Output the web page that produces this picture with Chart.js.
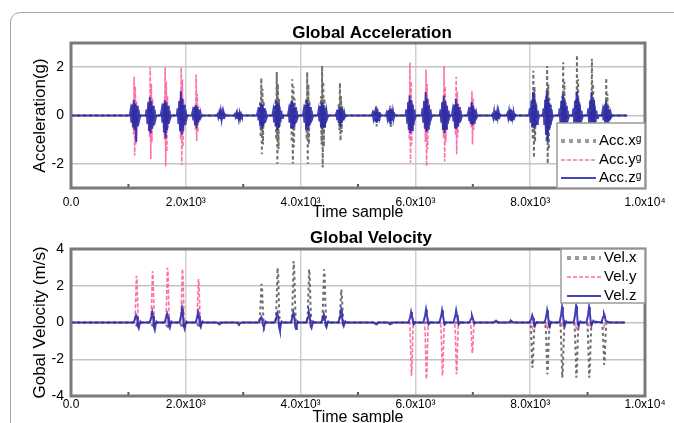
<!DOCTYPE html>
<html><head><meta charset="utf-8">
<script src="https://cdn.jsdelivr.net/npm/chart.js@4.4.1/dist/chart.umd.min.js"></script>
<style>
html,body{margin:0;padding:0;background:#fff;overflow:hidden;width:674px;height:423px;}
#frame{position:absolute;left:10px;top:12px;width:700px;height:500px;border:1px solid #a8a8a8;border-radius:10px;}
canvas{position:absolute;left:0;}
#c1{top:0}
#c2{top:206px}
</style></head><body>
<div id="frame"></div>
<canvas id="c1" width="674" height="225"></canvas>
<canvas id="c2" width="674" height="225"></canvas>
<script>
// ---------- shared axis text ----------
const xTickLabels = ['0.0', '2.0x10³', '4.0x10³', '6.0x10³', '8.0x10³', '1.0x10⁴'];
const xMinorTicks = [1000, 3000, 5000, 7000, 9000];
const xTitle = 'Time sample';

// ---------- Global Acceleration ----------
const accTitle = 'Global Acceleration';
const accYTitle = 'Acceleration(g)';
const accYTicks = [-2, 0, 2];
const accLabels = ['Acc.xᵍ', 'Acc.yᵍ', 'Acc.zᵍ'];
const accEnd = 9690;

const accXStarts = [1070, 1350, 1610, 1890, 2150, 2585, 2885, 3285, 3555, 3825, 4085, 4345, 4655, 5285, 5530, 5875, 6155, 6470, 6680, 6955, 7375, 7635, 8025, 8265, 8545, 8785, 9045, 9295];
const accXVals = [
  [0, 0.2, -0.3, 0.4, -0.5, 0.3, -0.3, 0.2, -0.1, 0],
  [0, 0.3, -0.4, 0.5, -0.5, 0.4, -0.3, 0.2, -0.1, 0],
  [0, 0.3, -0.5, 0.5, -0.6, 0.4, -0.3, 0.2, -0.1, 0],
  [0, 0.3, -0.4, 0.6, -0.5, 0.4, -0.3, 0.2, -0.1, 0],
  [0, 0.2, -0.3, 0.4, -0.4, 0.3, -0.2, 0.1, -0.1, 0],
  [0, 0.1, -0.15, 0.2, -0.2, 0.15, -0.1, 0.05, 0, 0],
  [0, 0.1, -0.1, 0.15, -0.2, 0.1, -0.1, 0.05, 0, 0],
  [0, 0.6, -0.9, 1.55, -1.6, 1.1, -1.2, 0.6, -0.4, 0],
  [0, 0.7, -1.0, 1.8, -2.0, 1.3, -1.4, 0.7, -0.5, 0],
  [0, 0.6, -1.1, 1.5, -2.0, 1.2, -1.3, 0.7, -0.4, 0],
  [0, 0.7, -1.0, 1.8, -2.0, 1.3, -1.2, 0.6, -0.4, 0],
  [0, 0.8, -1.2, 2.05, -2.15, 1.4, -1.3, 0.7, -0.5, 0],
  [0, 0.5, -0.6, 1.35, -1.05, 0.8, -0.7, 0.4, -0.2, 0],
  [0, 0.2, -0.3, 0.45, -0.45, 0.3, -0.2, 0.1, 0, 0],
  [0, 0.2, -0.3, 0.4, -0.5, 0.3, -0.2, 0.1, 0, 0],
  [0, 0.3, -0.5, 0.6, -0.6, 0.4, -0.3, 0.2, -0.1, 0],
  [0, 0.3, -0.4, 0.6, -0.7, 0.4, -0.3, 0.2, -0.1, 0],
  [0, 0.3, -0.5, 0.5, -0.6, 0.4, -0.3, 0.2, -0.1, 0],
  [0, 0.3, -0.4, 0.5, -0.5, 0.3, -0.3, 0.2, -0.1, 0],
  [0, 0.2, -0.3, 0.4, -0.4, 0.3, -0.2, 0.1, 0, 0],
  [0, 0.1, -0.2, 0.2, -0.2, 0.1, -0.1, 0.05, 0, 0],
  [0, 0.1, -0.2, 0.25, -0.2, 0.1, -0.1, 0.05, 0, 0],
  [0, 0.7, -1.0, 1.85, -1.75, 1.2, -1.1, 0.6, -0.4, 0],
  [0, 0.8, -1.1, 2.05, -2.0, 1.3, -1.4, 0.7, -0.5, 0],
  [0, 0.8, -1.0, 2.2, -1.9, 1.4, -1.2, 0.6, -0.4, 0],
  [0, 0.7, -1.0, 2.5, -1.8, 1.5, -1.1, 0.6, -0.3, 0],
  [0, 0.7, -0.9, 2.35, -1.7, 1.3, -1.0, 0.6, -0.3, 0],
  [0, 0.5, -0.7, 1.55, -1.2, 0.9, -0.6, 0.4, -0.2, 0]
];

const accYStarts = [1070, 1350, 1610, 1890, 2150, 3285, 3555, 3825, 4085, 4345, 4655, 5875, 6155, 6470, 6680, 6955, 8025, 8265, 8545, 8785, 9045, 9295];
const accYVals = [
  [0, 0.5, -0.8, 1.6, -1.65, 1.2, -1.2, 0.6, -0.4, 0],
  [0, 0.6, -0.9, 2.0, -1.8, 1.3, -1.1, 0.7, -0.5, 0],
  [0, 0.5, -1.0, 2.0, -2.1, 1.4, -1.5, 0.8, -0.5, 0],
  [0, 0.7, -1.0, 2.0, -2.05, 1.5, -1.3, 0.7, -0.4, 0],
  [0, 0.4, -0.6, 1.7, -1.05, 0.9, -0.7, 0.4, -0.2, 0],
  [0, 0.2, -0.3, 0.4, -0.4, 0.3, -0.2, 0.1, 0, 0],
  [0, 0.2, -0.3, 0.45, -0.5, 0.3, -0.2, 0.1, 0, 0],
  [0, 0.2, -0.3, 0.4, -0.45, 0.3, -0.2, 0.1, 0, 0],
  [0, 0.2, -0.3, 0.45, -0.5, 0.3, -0.2, 0.1, 0, 0],
  [0, 0.2, -0.3, 0.5, -0.5, 0.3, -0.2, 0.1, 0, 0],
  [0, 0.1, -0.2, 0.3, -0.3, 0.2, -0.1, 0.05, 0, 0],
  [0, 0.6, -1.0, 2.2, -1.95, 1.4, -1.2, 0.6, -0.4, 0],
  [0, 0.5, -1.1, 1.9, -2.1, 1.3, -1.4, 0.7, -0.3, 0],
  [0, 0.6, -0.9, 2.05, -1.9, 1.2, -1.1, 0.5, -0.3, 0],
  [0, 0.4, -0.8, 1.6, -1.6, 1.0, -0.9, 0.5, -0.3, 0],
  [0, 0.3, -0.5, 1.0, -1.2, 0.7, -0.6, 0.3, -0.2, 0],
  [0, 0.3, -0.4, 0.5, -0.6, 0.3, -0.2, 0.1, 0, 0],
  [0, 0.3, -0.5, 0.6, -0.8, 0.4, -0.3, 0.1, 0, 0],
  [0, 0.3, -0.4, 0.5, -0.6, 0.3, -0.2, 0.1, 0, 0],
  [0, 0.2, -0.4, 0.5, -0.5, 0.3, -0.2, 0.1, 0, 0],
  [0, 0.2, -0.3, 0.4, -0.5, 0.3, -0.2, 0.1, 0, 0],
  [0, 0.2, -0.3, 0.3, -0.4, 0.2, -0.1, 0.05, 0, 0]
];

const accZStarts = [1024, 1303, 1564, 1843, 2104, 2539, 2839, 3239, 3509, 3779, 4039, 4299, 4609, 5239, 5484, 5829, 6109, 6424, 6634, 6909, 7329, 7589, 7979, 8219, 8499, 8739, 8999, 9249];
const accZVals = [
  [0, 0.2, -0.3, 0.45, -0.5, 0.63, -0.6, 0.5, -1.1, 0.4, -0.45, 0.25, -0.15, 0],
  [0, 0.25, -0.35, 0.55, -0.6, 0.76, -0.73, 0.6, -0.55, 0.4, -0.4, 0.25, -0.15, 0],
  [0, 0.2, -0.3, 0.5, -0.7, 0.63, -0.94, 0.55, -0.6, 0.4, -0.35, 0.2, -0.1, 0],
  [0, 0.3, -0.35, 0.6, -0.6, 1.0, -0.8, 0.7, -0.65, 0.45, -0.4, 0.25, -0.15, 0],
  [0, 0.15, -0.2, 0.35, -0.4, 0.42, -0.53, 0.35, -0.3, 0.25, -0.2, 0.1, -0.05, 0],
  [0, 0.05, -0.08, 0.1, -0.12, 0.15, -0.15, 0.12, -0.1, 0.08, -0.05, 0.03, 0, 0],
  [0, 0.05, -0.06, 0.08, -0.1, 0.12, -0.12, 0.1, -0.08, 0.06, -0.04, 0.02, 0, 0],
  [0, 0.15, -0.2, 0.35, -0.4, 0.5, -0.55, 0.45, -0.45, 0.3, -0.3, 0.2, -0.1, 0],
  [0, 0.2, -0.25, 0.4, -0.45, 0.6, -0.6, 0.5, -0.5, 0.35, -0.3, 0.2, -0.1, 0],
  [0, 0.2, -0.3, 0.45, -0.5, 0.63, -0.55, 0.5, -0.5, 0.35, -0.3, 0.2, -0.1, 0],
  [0, 0.2, -0.3, 0.45, -0.55, 0.63, -0.6, 0.5, -0.45, 0.35, -0.3, 0.2, -0.1, 0],
  [0, 0.2, -0.25, 0.4, -0.5, 0.55, -0.55, 0.45, -0.45, 0.3, -0.3, 0.15, -0.1, 0],
  [0, 0.1, -0.15, 0.25, -0.3, 0.35, -0.46, 0.3, -0.3, 0.2, -0.2, 0.1, -0.05, 0],
  [0, 0.1, -0.1, 0.2, -0.25, 0.3, -0.3, 0.25, -0.2, 0.15, -0.1, 0.05, 0, 0],
  [0, 0.1, -0.1, 0.2, -0.25, 0.3, -0.35, 0.25, -0.2, 0.15, -0.1, 0.05, 0, 0],
  [0, 0.25, -0.3, 0.55, -0.6, 0.83, -0.73, 0.65, -0.6, 0.45, -0.4, 0.25, -0.1, 0],
  [0, 0.3, -0.3, 0.6, -0.55, 0.97, -0.67, 0.7, -0.55, 0.45, -0.4, 0.25, -0.1, 0],
  [0, 0.25, -0.3, 0.55, -0.6, 0.83, -0.73, 0.6, -0.55, 0.4, -0.35, 0.2, -0.1, 0],
  [0, 0.2, -0.25, 0.45, -0.5, 0.7, -0.55, 0.5, -0.45, 0.35, -0.3, 0.2, -0.1, 0],
  [0, 0.15, -0.2, 0.35, -0.35, 0.56, -0.4, 0.4, -0.3, 0.25, -0.2, 0.1, -0.05, 0],
  [0, 0.05, -0.1, 0.15, -0.15, 0.2, -0.2, 0.15, -0.1, 0.1, -0.05, 0.03, 0, 0],
  [0, 0.08, -0.1, 0.15, -0.2, 0.25, -0.25, 0.2, -0.15, 0.1, -0.05, 0.03, 0, 0],
  [0, 0.3, -0.3, 0.6, -0.5, 0.97, -0.53, 0.7, -0.45, 0.45, -0.35, 0.2, -0.1, 0],
  [0, 0.3, -0.4, 0.65, -0.8, 1.03, -1.07, 0.7, -0.6, 0.45, -0.4, 0.25, -0.1, 0],
  [0, 0.3, -0.35, 0.6, -0.6, 0.9, -0.6, 0.65, -0.5, 0.4, -0.35, 0.2, -0.1, 0],
  [0, 0.3, -0.35, 0.6, -0.55, 1.0, -0.6, 0.7, -0.5, 0.45, -0.35, 0.2, -0.1, 0],
  [0, 0.3, -0.35, 0.6, -0.55, 0.97, -0.6, 0.65, -0.5, 0.4, -0.3, 0.2, -0.1, 0],
  [0, 0.2, -0.2, 0.4, -0.3, 0.6, -0.35, 0.4, -0.3, 0.25, -0.2, 0.1, -0.05, 0]
];

// ---------- Global Velocity ----------
const velTitle = 'Global Velocity';
const velYTitle = 'Gobal Velocity (m/s)';
const velLabels = ['Vel.x', 'Vel.y', 'Vel.z'];
const velEnd = 9650;

const velXStarts = [1100, 1380, 1640, 1900, 2180, 3282, 3562, 3842, 4112, 4372, 4672, 8002, 8262, 8522, 8767, 8992, 9252];
const velXVals = [
  [0, -0.05, -0.1, -0.15, -0.1, -0.05, 0, 0, 0],
  [0, -0.05, -0.1, -0.15, -0.1, -0.05, 0, 0, 0],
  [0, -0.05, -0.15, -0.2, -0.1, -0.05, 0, 0, 0],
  [0, -0.1, -0.2, -0.3, -0.2, -0.1, 0, 0, 0],
  [0, -0.05, -0.1, -0.15, -0.1, -0.05, 0, 0, 0],
  [0, 0.4, 1.2, 2.1, 1.8, 0.8, 0.1, -0.05, 0],
  [0, 0.5, 1.6, 2.98, 2.6, 1.1, 0.2, -0.05, 0],
  [0, 0.6, 1.8, 3.34, 2.9, 1.2, 0.2, -0.05, 0],
  [0, 0.5, 1.6, 2.9, 2.5, 1.0, 0.2, -0.05, 0],
  [0, 0.5, 1.6, 2.9, 2.5, 1.0, 0.2, -0.05, 0],
  [0, 0.3, 1.0, 1.8, 1.5, 0.6, 0.1, 0, 0],
  [0, -0.4, -1.4, -2.46, -2.1, -0.9, -0.1, 0.05, 0],
  [0, -0.5, -1.6, -2.82, -2.4, -1.0, -0.2, 0.05, 0],
  [0, -0.5, -1.7, -3.0, -2.6, -1.1, -0.2, 0.05, 0],
  [0, -0.5, -1.7, -3.0, -2.6, -1.1, -0.2, 0.05, 0],
  [0, -0.5, -1.7, -3.0, -2.6, -1.1, -0.2, 0.05, 0],
  [0, -0.4, -1.3, -2.3, -2.0, -0.8, -0.1, 0.05, 0]
];

const velYStarts = [1110, 1390, 1650, 1910, 2190, 5900, 6160, 6440, 6685, 6960, 8010, 8270, 8530, 8775, 9000, 9260];
const velYVals = [
  [0, 0.5, 1.5, 2.54, 2.3, 1.2, 0.2, -0.1, 0],
  [0, 0.6, 1.7, 2.8, 2.5, 1.3, 0.2, -0.1, 0],
  [0, 0.6, 1.8, 2.98, 2.7, 1.4, 0.3, -0.1, 0],
  [0, 0.6, 1.8, 2.93, 2.6, 1.4, 0.3, -0.1, 0],
  [0, 0.5, 1.4, 2.36, 2.1, 1.1, 0.2, -0.1, 0],
  [0, -0.6, -1.7, -2.9, -2.6, -1.3, -0.2, 0.1, 0],
  [0, -0.6, -1.8, -3.09, -2.8, -1.4, -0.3, 0.1, 0],
  [0, -0.6, -1.7, -2.9, -2.6, -1.3, -0.2, 0.1, 0],
  [0, -0.5, -1.6, -2.82, -2.5, -1.2, -0.2, 0.1, 0],
  [0, -0.3, -1.0, -1.66, -1.5, -0.7, -0.1, 0.05, 0],
  [0, -0.1, -0.2, -0.3, -0.2, -0.1, 0, 0, 0],
  [0, -0.1, -0.2, -0.3, -0.2, -0.1, 0, 0, 0],
  [0, -0.1, -0.2, -0.25, -0.2, -0.1, 0, 0, 0],
  [0, -0.1, -0.2, -0.3, -0.2, -0.1, 0, 0, 0],
  [0, -0.1, -0.2, -0.25, -0.2, -0.1, 0, 0, 0],
  [0, -0.05, -0.1, -0.2, -0.1, -0.05, 0, 0, 0]
];

const velZStarts = [1090, 1370, 1630, 1890, 2170, 2540, 2880, 3270, 3550, 3830, 4100, 4360, 4660, 5270, 5515, 5880, 6140, 6420, 6665, 6940, 7360, 7620, 7990, 8250, 8510, 8755, 8980, 9240];
const velZVals = [
  [0, 0.1, 0.25, 0.4, 0.3, -0.2, -0.32, -0.1, 0.05, 0],
  [0, 0.15, 0.3, 0.57, 0.35, -0.25, -0.4, -0.1, 0.05, 0],
  [0, 0.15, 0.3, 0.48, 0.3, -0.2, -0.3, -0.1, 0.05, 0],
  [0, 0.2, 0.4, 0.75, 0.4, -0.2, -0.35, -0.1, 0.05, 0],
  [0, 0.15, 0.3, 0.57, 0.35, -0.15, -0.25, -0.05, 0.05, 0],
  [0, -0.03, -0.06, -0.1, -0.06, -0.03, 0, 0, 0, 0],
  [0, -0.03, -0.06, -0.1, -0.06, -0.03, 0, 0, 0, 0],
  [0, 0.1, 0.2, 0.3, 0.2, -0.15, -0.25, -0.1, 0.05, 0],
  [0, 0.15, 0.3, 0.5, 0.3, -0.25, -0.45, -0.1, 0.05, 0],
  [0, 0.15, 0.3, 0.55, 0.35, -0.2, -0.35, -0.1, 0.05, 0],
  [0, 0.15, 0.3, 0.55, 0.35, -0.2, -0.3, -0.1, 0.05, 0],
  [0, 0.15, 0.25, 0.45, 0.3, -0.15, -0.25, -0.05, 0.05, 0],
  [0, 0.2, 0.35, 0.66, 0.4, -0.1, -0.2, -0.05, 0.05, 0],
  [0, -0.03, -0.06, -0.1, -0.06, -0.03, 0, 0, 0, 0],
  [0, -0.03, -0.06, -0.1, -0.06, -0.03, 0, 0, 0, 0],
  [0, 0.15, 0.3, 0.57, 0.35, 0.1, -0.1, -0.05, 0.02, 0],
  [0, 0.2, 0.4, 0.71, 0.4, 0.1, -0.1, -0.05, 0.02, 0],
  [0, 0.2, 0.35, 0.66, 0.4, 0.1, -0.1, -0.05, 0.02, 0],
  [0, 0.2, 0.35, 0.66, 0.4, 0.1, -0.1, -0.05, 0.02, 0],
  [0, 0.1, 0.2, 0.39, 0.25, 0.05, -0.05, 0, 0, 0],
  [0, 0.03, 0.06, 0.1, 0.06, 0.03, 0, 0, 0, 0],
  [0, 0.03, 0.06, 0.1, 0.06, 0.03, 0, 0, 0, 0],
  [0, 0.1, 0.2, 0.39, 0.25, -0.1, -0.2, -0.05, 0.02, 0],
  [0, 0.15, 0.35, 0.66, 0.4, -0.1, -0.23, -0.05, 0.02, 0],
  [0, 0.2, 0.45, 0.84, 0.5, -0.1, -0.2, -0.05, 0.05, 0],
  [0, 0.2, 0.5, 0.9, 0.5, -0.1, -0.2, 0, 0.05, 0],
  [0, 0.2, 0.45, 0.84, 0.5, 0.0, -0.15, 0, 0.1, 0.05],
  [0, 0.15, 0.3, 0.48, 0.35, 0.1, 0.05, 0.05, 0.03, 0]
];

// ---------- build point tables from the burst lists ----------
function buildSeries(starts, bursts, step, endX) {
  const pts = [{x: 0, y: 0}];
  starts.forEach((s, i) => bursts[i].forEach((v, j) => pts.push({x: s + j * step, y: v})));
  pts.push({x: endX, y: 0});
  return pts;
}

const FONT = '"Liberation Sans", Arial, sans-serif';
Chart.defaults.font.family = FONT;
Chart.defaults.color = '#000';

const styleX = {borderColor: '#6e6e6e', borderWidth: 2, borderDash: [3, 3], legendWidth: 4, legendDash: [4, 4], legendColor: '#9a9a9a'};
const styleY = {borderColor: 'rgba(255,95,160,0.9)', borderWidth: 1.6, borderDash: [4, 2], legendWidth: 2, legendDash: [4, 2], legendColor: '#ff8fbf'};
const styleZ = {borderColor: 'rgba(38,38,168,0.88)', borderWidth: 2, borderDash: [], legendWidth: 2, legendDash: [], legendColor: '#4545b5'};

const framePlugin = {
  id: 'framePlugin',
  afterDatasetsDraw(chart, args, opts) {
    const {ctx, chartArea: a} = chart;
    const xs = chart.scales.x;
    ctx.save();
    // minor tick marks
    ctx.strokeStyle = '#555'; ctx.lineWidth = 2;
    xMinorTicks.forEach(v => {
      const px = xs.getPixelForValue(v);
      ctx.beginPath(); ctx.moveTo(px, a.bottom); ctx.lineTo(px, a.bottom - 4); ctx.stroke();
    });
    // plot frame
    ctx.strokeStyle = '#7a7a7a'; ctx.lineWidth = 3;
    ctx.strokeRect(a.left, a.top, a.right - a.left, a.bottom - a.top);
    // legend box
    const L = opts.legend;
    ctx.fillStyle = '#fff';
    ctx.fillRect(L.x, L.y, L.w, L.h);
    ctx.strokeStyle = '#9a9a9a'; ctx.lineWidth = 1.5;
    ctx.strokeRect(L.x, L.y, L.w, L.h);
    chart.data.datasets.forEach((ds, i) => {
      const y = L.rows[i];
      ctx.setLineDash(ds.legendDash);
      ctx.strokeStyle = ds.legendColor; ctx.lineWidth = ds.legendWidth;
      ctx.beginPath(); ctx.moveTo(L.x1, y); ctx.lineTo(L.x2, y); ctx.stroke();
      ctx.setLineDash([]);
      ctx.fillStyle = '#000'; ctx.font = '15px ' + FONT;
      ctx.textBaseline = 'middle'; ctx.textAlign = 'left';
      ctx.fillText(ds.label, L.tx, y);
    });
    // chart title
    ctx.font = 'bold 17px ' + FONT;
    ctx.textAlign = 'center'; ctx.textBaseline = 'middle'; ctx.fillStyle = '#000';
    ctx.fillText(opts.title, opts.titleX, opts.titleY);
    ctx.restore();
  }
};

function makeChart(id, cfg) {
  return new Chart(document.getElementById(id), {
    type: 'line',
    data: {datasets: cfg.datasets},
    plugins: [framePlugin],
    options: {
      responsive: false,
      animation: false,
      devicePixelRatio: 1,
      events: [],
      layout: {padding: {top: 43, right: 29, left: 0, bottom: 0}},
      elements: {point: {radius: 0}, line: {tension: 0}},
      plugins: {
        legend: {display: false},
        tooltip: {enabled: false},
        framePlugin: cfg.frame
      },
      scales: {
        x: {
          type: 'linear', min: 0, max: 10000,
          grid: {color: '#cfcfcf', lineWidth: 1.5, drawTicks: false},
          border: {display: false},
          ticks: {stepSize: 2000, autoSkip: false, maxRotation: 0, padding: cfg.xTickPad,
                  font: {size: 12}, callback: (v, i) => xTickLabels[i]},
          title: {display: true, text: xTitle, font: {size: 16}, padding: {top: 0, bottom: cfg.xTitlePad}},
          afterFit: s => { s.height = cfg.xHeight; }
        },
        y: {
          type: 'linear', min: cfg.yMin, max: cfg.yMax,
          grid: {color: '#c4c4c4', lineWidth: 1.5, drawTicks: false},
          border: {display: false},
          ticks: {stepSize: 2, padding: 7, font: {size: 14}},
          afterBuildTicks: cfg.yTicks ? (s => { s.ticks = cfg.yTicks.map(v => ({value: v})); }) : undefined,
          title: {display: true, text: cfg.yTitle, font: {size: 17}, padding: {top: 29.8, bottom: 0}},
          afterFit: s => { s.width = 71; }
        }
      }
    }
  });
}

function ds(label, data, style, order) {
  return Object.assign({label, data, order, fill: false, pointRadius: 0}, style);
}

makeChart('c1', {
  datasets: [
    ds(accLabels[0], buildSeries(accXStarts, accXVals, 10, accEnd), styleX, 1),
    ds(accLabels[1], buildSeries(accYStarts, accYVals, 10, accEnd), styleY, 2),
    ds(accLabels[2], buildSeries(accZStarts, accZVals, 14, accEnd), styleZ, 0)
  ],
  yMin: -3, yMax: 3, yTicks: accYTicks, yTitle: accYTitle,
  xHeight: 37, xTickPad: 7, xTitlePad: 2.9,
  frame: {title: accTitle, titleX: 372, titleY: 33,
          legend: {x: 557, y: 123, w: 88, h: 65, rows: [141, 160, 178], x1: 561, x2: 596, tx: 599}}
});

makeChart('c2', {
  datasets: [
    ds(velLabels[0], buildSeries(velXStarts, velXVals, 12, velEnd), styleX, 1),
    ds(velLabels[1], buildSeries(velYStarts, velYVals, 10, velEnd), styleY, 2),
    ds(velLabels[2], buildSeries(velZStarts, velZVals, 15, velEnd), styleZ, 0)
  ],
  yMin: -4, yMax: 4, yTicks: null, yTitle: velYTitle,
  xHeight: 35, xTickPad: 1, xTitlePad: 3.4,
  frame: {title: velTitle, titleX: 371, titleY: 32,
          legend: {x: 561, y: 43, w: 84, h: 54, rows: [52, 71, 90], x1: 567, x2: 601, tx: 604}}
});
</script></body></html>
